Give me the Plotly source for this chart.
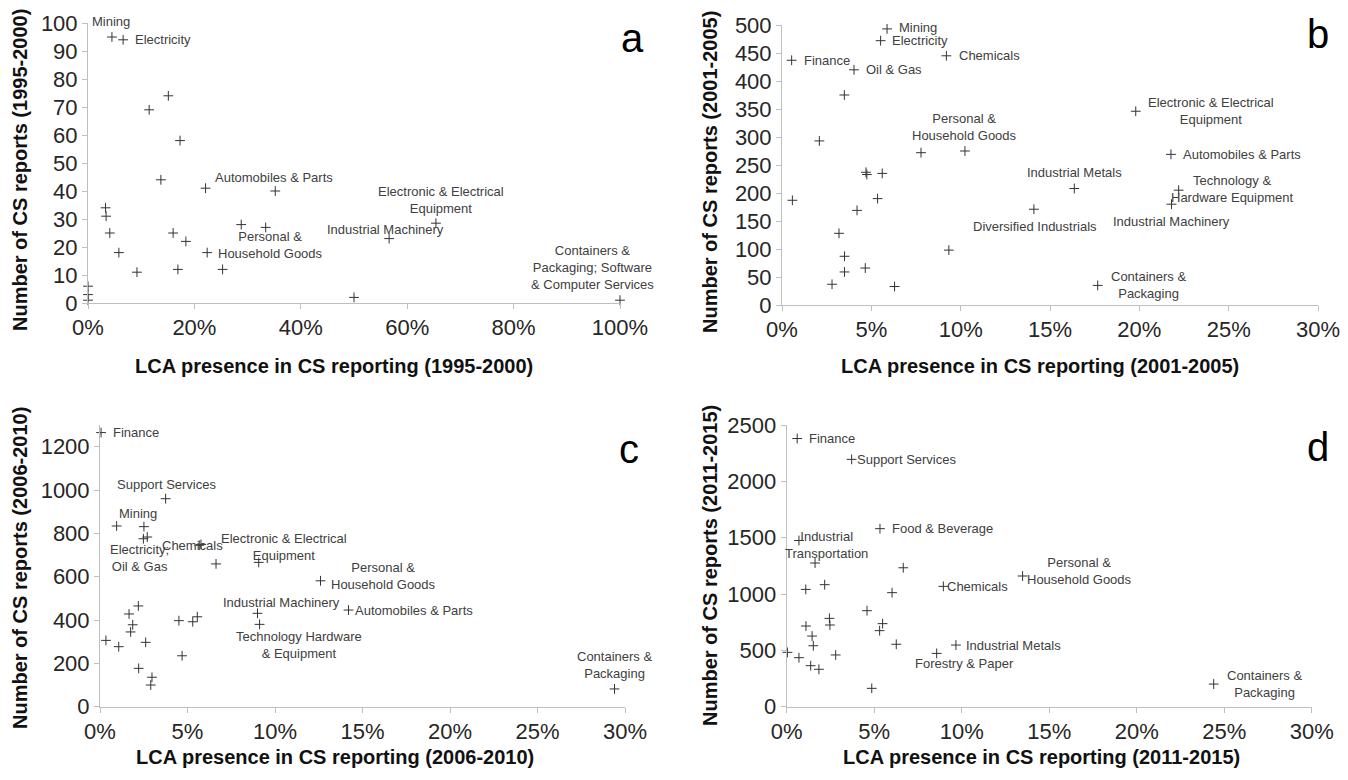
import plotly.graph_objects as go

W, H = 1348, 780

# ---------------- data ----------------
# Panel a (1995-2000)
names_a = ["Mining", "Electricity", "", "", "", "", "", "Automobiles & Parts", "", "", "", "", "",
           "", "", "", "Personal & Household Goods", "", "", "", "", "", "",
           "Electronic & Electrical Equipment", "Industrial Machinery", "",
           "Containers & Packaging; Software & Computer Services"]
x_a = [4.5, 6.6, 11.5, 15.1, 17.3, 13.7, 22.1, 35.2, 3.3, 3.4, 4.1, 5.8, 9.2,
       16.0, 18.4, 16.9, 22.4, 25.3, 28.8, 33.4, 0, 0, 0,
       65.4, 56.6, 50.0, 100]
y_a = [95, 94, 69, 74, 58, 44, 41, 40, 34, 31, 25, 18, 11,
       25, 22, 12, 18, 12, 28, 27, 6, 3, 1,
       28.5, 23, 2, 1]

# Panel b (2001-2005)
names_b = ["Mining", "Electricity", "Chemicals", "Finance", "Oil & Gas", "", "", "",
           "Personal & Household Goods", "", "", "", "", "", "", "", "", "", "", "", "", "",
           "Electronic & Electrical Equipment", "Automobiles & Parts", "Industrial Metals",
           "Diversified Industrials", "Technology & Hardware Equipment", "Industrial Machinery",
           "Containers & Packaging"]
x_b = [5.88, 5.52, 9.2, 0.54, 4.03, 3.49, 2.09, 7.78,
       10.24, 4.7, 4.75, 5.61, 0.58, 5.35, 4.2, 3.19, 9.34, 3.5, 3.5, 4.66, 2.8, 6.3,
       19.8, 21.77, 16.36, 14.1, 22.2, 21.8, 17.67]
y_b = [493, 472, 445, 437, 420, 375, 293, 272,
       275, 237, 233, 235, 187, 190, 169, 128, 98, 87, 59, 66, 37, 33,
       346, 269, 208, 171, 205, 180, 35]

# Panel c (2006-2010)
names_c = ["Finance", "Support Services", "", "Mining", "Electricity; Oil & Gas", "", "Chemicals", "", "",
           "Electronic & Electrical Equipment", "Personal & Household Goods", "Automobiles & Parts",
           "Industrial Machinery", "Technology Hardware & Equipment", "Containers & Packaging",
           "", "", "", "", "", "", "", "", "", "", "", "", "", ""]
x_c = [0.06, 3.75, 0.95, 2.51, 2.48, 2.7, 5.67, 5.77, 6.63,
       9.07, 12.6, 14.2, 9.0, 9.12, 29.4,
       2.19, 1.66, 1.87, 1.75, 4.51, 5.3, 5.56, 0.34, 1.07, 2.61, 4.69, 2.21, 2.97, 2.9]
y_c = [1265, 960, 834, 831, 775, 783, 745, 749, 659,
       666, 581, 446, 431, 380, 82,
       465, 428, 378, 345, 397, 392, 415, 306, 277, 297, 235, 177, 136, 100]

# Panel d (2011-2015)
names_d = ["Finance", "Support Services", "Food & Beverage", "Industrial Transportation", "", "", "", "",
           "Chemicals", "", "", "", "", "", "", "", "", "", "", "Industrial Metals", "Forestry & Paper",
           "", "", "", "", "", "", "Personal & Household Goods", "Containers & Packaging"]
x_d = [0.6, 3.71, 5.33, 0.7, 1.62, 6.66, 2.17, 1.09,
       8.95, 6.02, 4.59, 2.44, 2.47, 5.48, 5.31, 1.1, 1.45, 1.52, 6.26, 9.67, 8.57,
       0.04, 0.7, 2.8, 1.37, 1.84, 4.86, 13.48, 24.4]
y_d = [2380, 2195, 1580, 1475, 1275, 1233, 1083, 1041,
       1068, 1012, 852, 784, 725, 737, 675, 716, 627, 541, 554, 547, 473,
       482, 435, 459, 364, 332, 163, 1160, 201]

x_ticks_a = [0, 20, 40, 60, 80, 100]
x_ticks_bcd = [0, 5, 10, 15, 20, 25, 30]
periods = ["1995-2000", "2001-2005", "2006-2010", "2011-2015"]
letters = ["a", "b", "c", "d"]

# ---------------- layout / style ----------------
# plot areas in pixels: (left, right, top, bottom)
AREAS = [(88, 620, 23, 303), (782, 1318, 25, 305), (100, 625, 425, 706.7), (786.7, 1311.7, 425, 706.7)]
Y_RANGES = [(0, 100, 10), (0, 500, 50), (0, 1300, 200), (0, 2500, 500)]
X_RANGES = [(0, 100), (0, 30), (0, 30), (0, 30)]
YTITLE_POS = [(20, 170), (710, 172), (20, 568), (710, 566)]
XTITLE_POS = [(334, 366), (1040, 366), (335, 757), (1041, 757)]
LETTER_POS = [(632, 38), (1318, 34), (629, 449), (1318, 447)]

# label placement: (text, xanchor, xshift, yshift)
LABEL_STYLE = {
    0: {
        "Mining": ("Mining", "center", -1, 16),
        "Electricity": ("Electricity", "left", 10, 0),
        "Automobiles & Parts": ("Automobiles & Parts", "center", -1, 14),
        "Personal & Household Goods": ("Personal &<br>Household Goods", "left", 9, 8),
        "Electronic & Electrical Equipment": ("Electronic & Electrical<br>Equipment", "center", 5, 23),
        "Industrial Machinery": ("Industrial Machinery", "center", -4, 9),
        "Containers & Packaging; Software & Computer Services":
            ("Containers &<br>Packaging; Software<br>& Computer Services", "center", -28, 33),
    },
    1: {
        "Mining": ("Mining", "left", 10, 1),
        "Electricity": ("Electricity", "left", 9, 0),
        "Chemicals": ("Chemicals", "left", 11, 0),
        "Finance": ("Finance", "left", 10, 0),
        "Oil & Gas": ("Oil & Gas", "left", 10, 0),
        "Personal & Household Goods": ("Personal &<br>Household Goods", "center", 0, 24),
        "Diversified Industrials": ("Diversified Industrials", "center", 1, -17),
        "Industrial Metals": ("Industrial Metals", "center", 0, 16),
        "Electronic & Electrical Equipment": ("Electronic & Electrical<br>Equipment", "left", 10, 0),
        "Automobiles & Parts": ("Automobiles & Parts", "left", 10, 0),
        "Technology & Hardware Equipment": ("Technology &<br>Hardware Equipment", "left", -10, 1),
        "Industrial Machinery": ("Industrial Machinery", "center", 0, -17),
        "Containers & Packaging": ("Containers &<br>Packaging", "left", 11, 0),
    },
    2: {
        "Finance": ("Finance", "left", 10, 0),
        "Support Services": ("Support Services", "center", 1, 14),
        "Mining": ("Mining", "center", -6, 13),
        "Electricity; Oil & Gas": ("Electricity;<br>Oil & Gas", "center", -4, -19),
        "Chemicals": ("Chemicals", "center", -7, 0),
        "Electronic & Electrical Equipment": ("Electronic & Electrical<br>Equipment", "center", 25, 15),
        "Personal & Household Goods": ("Personal &<br>Household Goods", "left", 8, 5),
        "Automobiles & Parts": ("Automobiles & Parts", "left", 4, 0),
        "Industrial Machinery": ("Industrial Machinery", "center", 24, 11),
        "Technology Hardware & Equipment": ("Technology Hardware<br>& Equipment", "center", 39, -21),
        "Containers & Packaging": ("Containers &<br>Packaging", "center", 0, 24),
    },
    3: {
        "Finance": ("Finance", "left", 10, 0),
        "Support Services": ("Support Services", "left", 3, 0),
        "Food & Beverage": ("Food & Beverage", "left", 10, 0),
        "Industrial Transportation": ("Industrial<br>Transportation", "center", 28, -4),
        "Chemicals": ("Chemicals", "left", 2, 0),
        "Industrial Metals": ("Industrial Metals", "left", 8, 0),
        "Forestry & Paper": ("Forestry & Paper", "center", 28, -10),
        "Personal & Household Goods": ("Personal &<br>Household Goods", "left", 2, 5),
        "Containers & Packaging": ("Containers &<br>Packaging", "left", 11, 0),
    },
}

FONT = "Liberation Sans, Arial, sans-serif"
AXIS_COLOR = "#bfbfbf"
MARK_COLOR = "#333333"
LABEL_COLOR = "#404040"

panels = [(names_a, x_a, y_a), (names_b, x_b, y_b), (names_c, x_c, y_c), (names_d, x_d, y_d)]

fig = go.Figure()
annotations = []

for i, (names, xs, ys) in enumerate(panels):
    sfx = "" if i == 0 else str(i + 1)
    xa, ya = "x" + sfx, "y" + sfx
    fig.add_trace(go.Scatter(
        x=xs, y=ys, mode="markers", xaxis=xa, yaxis=ya, cliponaxis=False,
        marker=dict(symbol="cross-thin", size=7, line=dict(width=1, color=MARK_COLOR), color=MARK_COLOR),
        hovertext=names, showlegend=False))

    l, r, t, b = AREAS[i]
    ymin, ymax, ydt = Y_RANGES[i]
    xmin, xmax = X_RANGES[i]
    common = dict(showline=True, linecolor=AXIS_COLOR, linewidth=1, ticks="outside", ticklen=5,
                  tickcolor=AXIS_COLOR, showgrid=False, zeroline=False, automargin=False,
                  tickfont=dict(family=FONT, size=22, color="#262626"))
    xt = x_ticks_a if i == 0 else x_ticks_bcd
    fig.layout["xaxis" + sfx] = dict(
        domain=[l / W, r / W], range=[xmin, xmax], anchor=ya,
        tickmode="array", tickvals=xt, ticktext=["%d%%" % v for v in xt], **common)
    fig.layout["yaxis" + sfx] = dict(
        domain=[1 - b / H, 1 - t / H], range=[ymin, ymax], anchor=xa, dtick=ydt, **common)

    # point labels
    for name, xv, yv in zip(names, xs, ys):
        if not name:
            continue
        text, xanchor, xshift, yshift = LABEL_STYLE[i][name]
        annotations.append(dict(
            x=xv, y=yv, xref=xa, yref=ya, text=text, showarrow=False,
            xanchor=xanchor, yanchor="middle", xshift=xshift, yshift=yshift, align="center",
            font=dict(family=FONT, size=13, color=LABEL_COLOR)))

    # axis titles
    tx, ty = XTITLE_POS[i]
    annotations.append(dict(
        x=tx / W, y=1 - ty / H, xref="paper", yref="paper", showarrow=False,
        text="<b>LCA presence in CS reporting (%s)</b>" % periods[i],
        xanchor="center", yanchor="middle", font=dict(family=FONT, size=20, color="#111111")))
    vx, vy = YTITLE_POS[i]
    annotations.append(dict(
        x=vx / W, y=1 - vy / H, xref="paper", yref="paper", showarrow=False, textangle=-90,
        text="<b>Number of CS reports (%s)</b>" % periods[i],
        xanchor="center", yanchor="middle", font=dict(family=FONT, size=20, color="#111111")))
    # panel letter
    lx, ly = LETTER_POS[i]
    annotations.append(dict(
        x=lx / W, y=1 - ly / H, xref="paper", yref="paper", showarrow=False, text=letters[i],
        xanchor="center", yanchor="middle", font=dict(family=FONT, size=40, color="#000000")))

fig.update_layout(
    width=W, height=H, margin=dict(l=0, r=0, t=0, b=0, autoexpand=False),
    paper_bgcolor="white", plot_bgcolor="white",
    annotations=annotations, showlegend=False)

fig.write_html("out.html", config={"displayModeBar": False},
               post_script="document.body.style.margin='0';")
